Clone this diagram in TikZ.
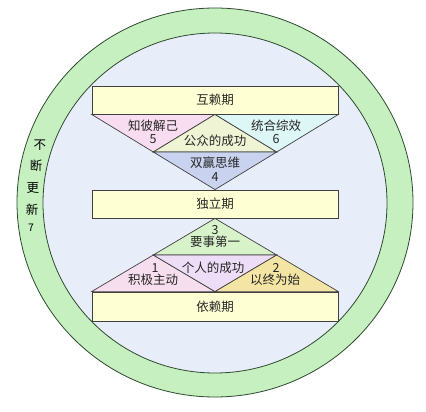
\documentclass[tikz,border=0pt]{standalone}
\usepackage{fontspec}
\newfontfamily\cjk{Noto Sans CJK SC}
\usetikzlibrary{calc}
\definecolor{ringc}{HTML}{C6F0C0}
\definecolor{ringl}{HTML}{2E4A30}
\definecolor{discc}{HTML}{E8EDFA}
\definecolor{boxc}{HTML}{FFFFD4}
\definecolor{pinkc}{HTML}{F8DDF0}
\definecolor{ygreenc}{HTML}{EEF4D4}
\definecolor{cyanc}{HTML}{DDF6F6}
\definecolor{bluec}{HTML}{C9D3F0}
\definecolor{greenc}{HTML}{D8F3CA}
\definecolor{pink2c}{HTML}{F7DEEE}
\definecolor{lavc}{HTML}{EEDDF6}
\definecolor{yellc}{HTML}{F5E5A4}
\begin{document}
\begin{tikzpicture}[x=1pt,y=-1pt,
  lbl/.style={font=\cjk\fontsize{12.5}{13}\selectfont, inner sep=0pt, text=black!85},
  band/.style={draw=black!75, line width=0.8pt, fill=boxc, minimum width=246pt, inner sep=0pt,
    font=\cjk\fontsize{12.5}{13}\selectfont, text=black!85},
  tri/.style={draw=black!75, line width=0.7pt, line join=miter}]
\useasboundingbox (0,0) rectangle (426,412);
\fill[white] (0,0) rectangle (426,412);
% rings
\draw[fill=ringc, draw=ringl, line width=0.8pt] (215,202.5) ellipse [x radius=198, y radius=194.5];
\draw[fill=discc, draw=ringl, line width=0.8pt] (215,203) ellipse [x radius=172, y radius=170];
% bands
\node[band, minimum height=28pt] (hu) at (215,100) {互赖期};
\node[band, minimum height=28pt] (du) at (215,204) {独立期};
\node[band, minimum height=29pt] (yl) at (215,306.5) {依赖期};
% upper inverted triangle
\coordinate (ta) at (hu.south west);
\coordinate (tb) at (hu.south east);
\coordinate (tc) at (hu.south);
\coordinate (tapex) at (du.north);
\coordinate (tl) at ($(ta)!0.5!(tapex)$);
\coordinate (tr) at ($(tb)!0.5!(tapex)$);
\filldraw[tri, fill=pinkc] (ta) -- (tc) -- (tl) -- cycle;
\filldraw[tri, fill=ygreenc] (tc) -- (tr) -- (tl) -- cycle;
\filldraw[tri, fill=cyanc] (tc) -- (tb) -- (tr) -- cycle;
\filldraw[tri, fill=bluec] (tl) -- (tr) -- (tapex) -- cycle;
% lower upright triangle
\coordinate (ba) at (yl.north west);
\coordinate (bb) at (yl.north east);
\coordinate (bc) at (yl.north);
\coordinate (bapex) at (du.south);
\coordinate (bl) at ($(ba)!0.5!(bapex)$);
\coordinate (br) at ($(bb)!0.5!(bapex)$);
\filldraw[tri, fill=greenc] (bapex) -- (br) -- (bl) -- cycle;
\filldraw[tri, fill=pink2c] (ba) -- (bl) -- (bc) -- cycle;
\filldraw[tri, fill=lavc] (bl) -- (br) -- (bc) -- cycle;
\filldraw[tri, fill=yellc] (bc) -- (br) -- (bb) -- cycle;
% upper labels
\node[lbl] (zb) at (153,126) {知彼解己};
\node[lbl] (n5) at (153,139) {5};
\node[lbl] (gz) at (215,141) {公众的成功};
\node[lbl] (th) at (276,126) {统合综效};
\node[lbl] (n6) at (276,139) {6};
\node[lbl] (sy) at (215,163) {双赢思维};
\node[lbl] (n4) at (215,177) {4};
% lower labels
\node[lbl] (n3) at (215,230) {3};
\node[lbl] (ys) at (215,242) {要事第一};
\node[lbl] (n1) at (155,268) {1};
\node[lbl] (jj) at (153,280) {积极主动};
\node[lbl] (gr) at (213,268) {个人的成功};
\node[lbl] (n2) at (276,268) {2};
\node[lbl] (yz) at (275,280) {以终为始};
% side text
\node[lbl, text=black] (s1) at (40,145) {不};
\node[lbl, text=black] (s2) at (36,166) {断};
\node[lbl, text=black] (s3) at (33,188) {更};
\node[lbl, text=black] (s4) at (32,210) {新};
\node[lbl, text=black, font=\cjk\fontsize{10.5}{11}\selectfont] (s5) at (31,228) {7};
\end{tikzpicture}
\end{document}
